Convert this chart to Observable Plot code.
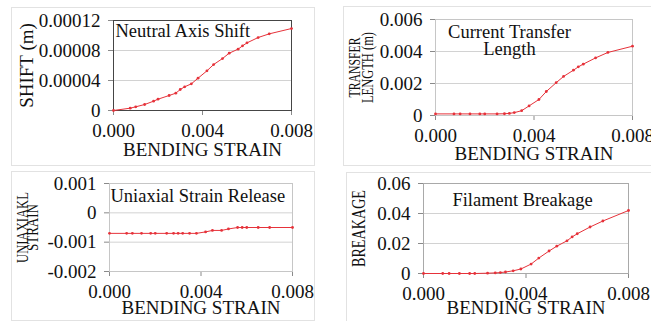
<!DOCTYPE html>
<html><head><meta charset="utf-8">
<script src="https://cdn.jsdelivr.net/npm/d3@7"></script>
<script src="https://cdn.jsdelivr.net/npm/@observablehq/plot@0.6"></script>
<style>
html,body{margin:0;padding:0;background:#fff;overflow:hidden;}
#root{position:relative;width:651px;height:321px;overflow:hidden;font-family:"Liberation Serif",serif;}
.card{position:absolute;border:1px solid #e2e2e2;box-sizing:border-box;}
.panel{position:absolute;}
</style></head><body><div id="root"></div>
<script>
// ---- data ----
const strain = [0, 0.00075, 0.001, 0.0014, 0.0018, 0.002, 0.0025, 0.0028, 0.003, 0.0032, 0.0035, 0.0038,
                0.0042, 0.0045, 0.0049, 0.0052, 0.0056, 0.0058, 0.006, 0.0065, 0.007, 0.008];
const neutralShift = [0, 3.1e-6, 4.9e-6, 8e-6, 12.4e-6, 15.1e-6, 20e-6, 23.1e-6, 28e-6, 31.6e-6, 35.6e-6, 43.1e-6,
                      52.9e-6, 61.3e-6, 69.3e-6, 76.4e-6, 81.8e-6, 86.2e-6, 90.2e-6, 97.3e-6, 102.2e-6, 109.3e-6];
const transferLength = [0.0001, 0.0001, 0.0001, 0.0001, 0.0001, 0.0001, 0.0001, 0.00011, 0.00013, 0.00018, 0.0003, 0.0006,
                        0.001, 0.0015, 0.00205, 0.00244, 0.00283, 0.00304, 0.00321, 0.0036, 0.00394, 0.00433];
const uniaxialStrain = [-0.0007, -0.0007, -0.0007, -0.0007, -0.0007, -0.0007, -0.0007, -0.0007, -0.0007, -0.0007, -0.0007, -0.0007,
                        -0.00065, -0.0006, -0.0006, -0.00055, -0.0005, -0.0005, -0.0005, -0.0005, -0.0005, -0.0005];
const breakage = [0, 0, 0, 0, 0, 0, 0.0002, 0.0004, 0.0006, 0.001, 0.0018, 0.003,
                  0.0063, 0.0103, 0.015, 0.0182, 0.0218, 0.0244, 0.0265, 0.031, 0.035, 0.042];

const xTicks = [0, 0.004, 0.008];
const xTickLabels = ["0.000", "0.004", "0.008"];
const shiftTicks = [0, 0.00004, 0.00008, 0.00012];
const shiftTickLabels = ["0", "0.00004", "0.00008", "0.00012"];
const transferTicks = [0, 0.002, 0.004, 0.006];
const transferTickLabels = ["0", "0.002", "0.004", "0.006"];
const uniaxialTicks = [-0.002, -0.001, 0, 0.001];
const uniaxialTickLabels = ["-0.002", "-0.001", "0", "0.001"];
const breakageTicks = [0, 0.02, 0.04, 0.06];
const breakageTickLabels = ["0", "0.02", "0.04", "0.06"];

const xLabel = "BENDING STRAIN";
const titles = [["Neutral Axis Shift"], ["Current Transfer", "Length"], ["Uniaxial Strain Release"], ["Filament Breakage"]];
const yLabels = [["SHIFT (m)"], ["TRANSFER", "LENGTH (m)"], ["UNIAXIAKL", "STRAIN"], ["BREAKAGE"]];

// ---- layout / style ----
const RED = "#e6323a";
const root = document.getElementById("root");
const cards = [
  {left: 11, top: 7, width: 304, height: 159},
  {left: 343, top: 6, width: 330, height: 160},
  {left: 11, top: 171, width: 304, height: 150},
  {left: 346, top: 172, width: 330, height: 160}
];
cards.forEach(c => {
  const d = document.createElement("div");
  d.className = "card";
  Object.assign(d.style, {left: c.left + "px", top: c.top + "px", width: c.width + "px", height: c.height + "px"});
  root.appendChild(d);
});

const fmt = (ticks, labels) => d => labels[ticks.findIndex(t => Math.abs(t - d) < 1e-12)];
const condensed = {"TRANSFER": 60, "LENGTH (m)": 71, "UNIAXIAKL": 71, "STRAIN": 47, "BREAKAGE": 77};

const panels = [
  {pos: [0, 0], width: 325, height: 166, m: [20, 34, 56, 113], values: neutralShift, yDomain: [0, 0.00012],
   yTicks: shiftTicks, yTickLabels: shiftTickLabels, frame: "#454545",
   title: {anchor: "start", dx: 2, dy: 16}, xLabelDy: 45,
   yLab: [{dx: -81, size: 19}]},
  {pos: [325, 0], width: 326, height: 166, m: [19, 19, 51, 110], values: transferLength, yDomain: [0, 0.006],
   yTicks: transferTicks, yTickLabels: transferTickLabels, frame: "#c6c6c6",
   title: {anchor: "middle", dx: 74, dy: 35}, xLabelDy: 44,
   yLab: [{dx: -76, size: 16.5}, {dx: -63, size: 16.5}]},
  {pos: [0, 166], width: 325, height: 155, m: [17, 33, 50, 109], values: uniaxialStrain, yDomain: [-0.002, 0.001],
   yTicks: uniaxialTicks, yTickLabels: uniaxialTickLabels, frame: "#c6c6c6",
   title: {anchor: "start", dx: 1, dy: 18}, xLabelDy: 42,
   yLab: [{dx: -82, size: 16.5}, {dx: -71.5, size: 16.5}]},
  {pos: [325, 166], width: 326, height: 155, m: [17, 23, 48, 98], values: breakage, yDomain: [0, 0.06],
   yTicks: breakageTicks, yTickLabels: breakageTickLabels, frame: "#a9a9a9",
   title: {anchor: "middle", dx: 99, dy: 22}, xLabelDy: 40,
   yLab: [{dx: -59, size: 18}]}
];

panels.forEach((p, i) => {
  const data = strain.map((s, j) => ({s, v: p.values[j]}));
  const marks = [
    Plot.gridY(p.yTicks, {stroke: "#d2d2d2", strokeOpacity: 1}),
    Plot.axisX(xTicks, {tickFormat: fmt(xTicks, xTickLabels), tickSize: 5, tickPadding: 8, stroke: "#8a8a8a", fill: "#111", label: null}),
    Plot.axisY(p.yTicks, {tickFormat: fmt(p.yTicks, p.yTickLabels), tickSize: 5, tickPadding: 8, stroke: "#8a8a8a", fill: "#111", label: null}),
    Plot.frame({stroke: p.frame}),
    Plot.line(data, {x: "s", y: "v", stroke: RED, strokeWidth: 1}),
    Plot.dot(data, {x: "s", y: "v", r: 1.4, fill: RED, stroke: null}),
    Plot.text([titles[i].join("\n")], {text: d => d, frameAnchor: "top-left", dx: p.title.dx, dy: p.title.dy,
      textAnchor: p.title.anchor, lineAnchor: "bottom", lineHeight: 0.87, fontSize: 18.5, fill: "#111"}),
    Plot.text([xLabel], {text: d => d, frameAnchor: "bottom", dy: p.xLabelDy, textAnchor: "middle", lineAnchor: "bottom", fontSize: 19, fill: "#111"}),
    ...yLabels[i].map((lab, k) => Plot.text([lab], {text: d => d, frameAnchor: "left", rotate: -90, dx: p.yLab[k].dx,
      textAnchor: "middle", lineAnchor: "bottom", fontSize: p.yLab[k].size, fill: "#111"}))
  ];
  const svg = Plot.plot({
    width: p.width, height: p.height,
    marginTop: p.m[0], marginRight: p.m[1], marginBottom: p.m[2], marginLeft: p.m[3],
    style: {background: "transparent", fontFamily: "Liberation Serif, serif", fontSize: "19px", color: "#111", overflow: "visible", maxWidth: "none"},
    x: {domain: [0, 0.008]},
    y: {domain: p.yDomain},
    marks
  });
  d3.select(svg).selectAll("text").each(function() {
    const t = this.textContent;
    if (condensed[t] != null && this.children.length === 0) {
      this.setAttribute("textLength", condensed[t]);
      this.setAttribute("lengthAdjust", "spacingAndGlyphs");
    }
  });
  const wrap = document.createElement("div");
  wrap.className = "panel";
  wrap.style.left = p.pos[0] + "px";
  wrap.style.top = p.pos[1] + "px";
  wrap.appendChild(svg);
  root.appendChild(wrap);
});
</script>
</body></html>
